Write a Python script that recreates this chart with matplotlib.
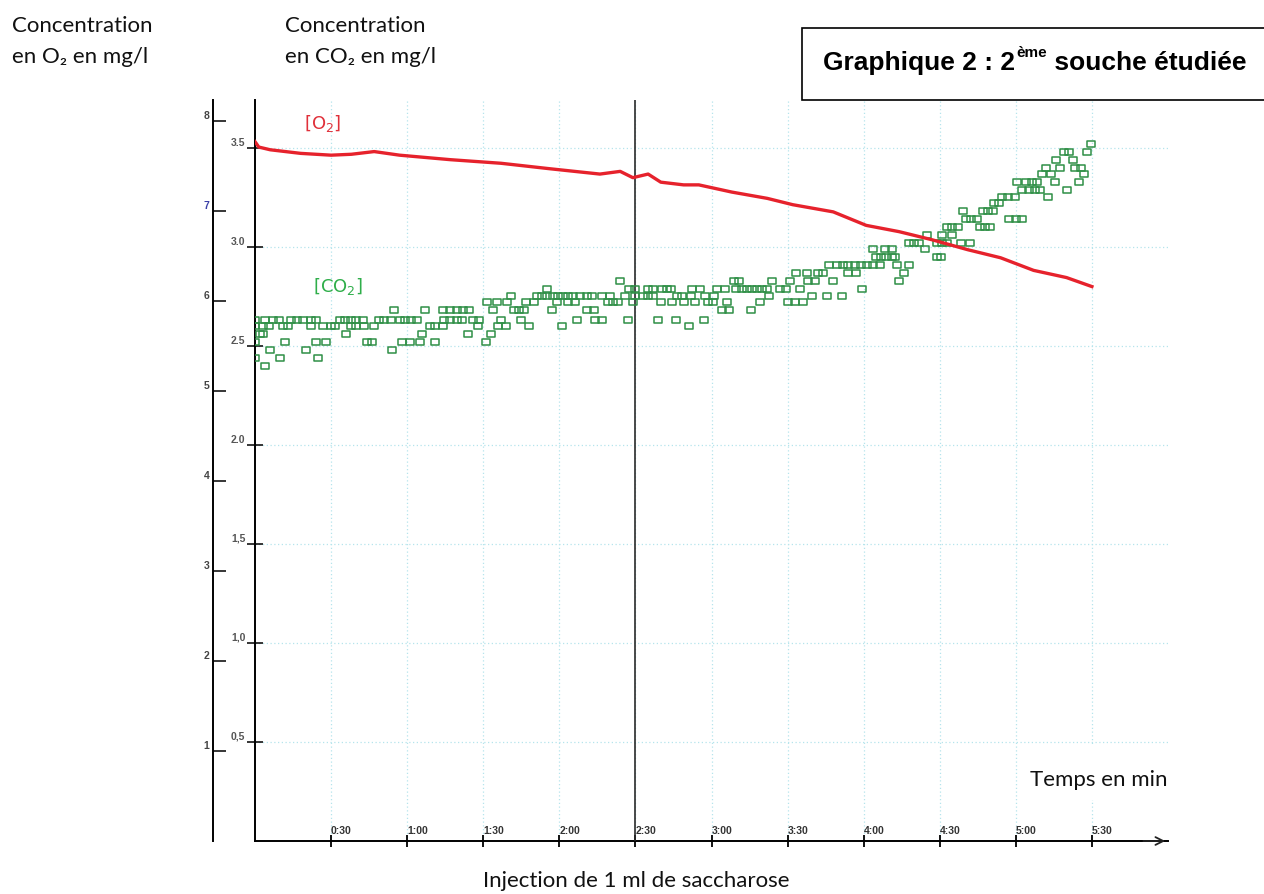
import numpy as np
import matplotlib
matplotlib.use('Agg')
import matplotlib.pyplot as plt
from matplotlib.path import Path
from matplotlib.patches import Rectangle

# O2 trace: time (s) and concentration (mg/l, left outer axis)
o2_t = [0, 1.5, 6, 18, 30, 38, 47, 57, 77, 97, 116, 136, 144, 149, 155, 160, 169, 175,
        188, 202, 212, 228, 241, 254, 267, 281, 294, 307, 320, 330]
o2_val = [7.77, 7.71, 7.68, 7.64, 7.62, 7.63, 7.66, 7.62, 7.57, 7.53, 7.47, 7.41, 7.44, 7.37,
          7.41, 7.32, 7.29, 7.29, 7.21, 7.14, 7.07, 6.99, 6.84, 6.77, 6.68, 6.57, 6.48, 6.34,
          6.26, 6.16]

# CO2 readings (mg/l, inner axis): the sensor steps by levels, times (s) seen at each level
co2_levels = [2.40, 2.44, 2.48, 2.52, 2.56, 2.60, 2.63, 2.68, 2.72, 2.75, 2.79, 2.83, 2.87,
              2.91, 2.95, 2.99, 3.02, 3.06, 3.10, 3.14, 3.18, 3.22, 3.25, 3.29, 3.33, 3.37,
              3.40, 3.44, 3.48, 3.52]
co2_times = [
    [4],
    [0, 10, 25],
    [6, 20, 54],
    [0, 12, 24, 28, 44, 46, 58, 61, 65, 71, 91],
    [2, 3, 36, 66, 84, 93],
    [0, 3, 5.5, 11, 13, 22, 27, 30, 31.5, 38, 40, 43, 47, 69, 71, 74, 88, 96, 99, 108, 121, 171],
    [0, 4, 7, 9.5, 14, 16.5, 19, 22, 24, 33.5, 35.5, 38, 40, 42.5, 49, 51, 53.5, 57, 59, 61.5,
     64, 74.5, 77, 79.5, 81.5, 86, 88.5, 97, 105, 127, 134, 137, 147, 159, 166, 177],
    [55, 67, 74, 77, 79.5, 82, 84.5, 94, 102, 104, 106, 117, 131, 133.5, 184, 187, 195.5],
    [91.5, 95.5, 99.5, 107, 110, 119, 123.5, 126, 139, 141, 143, 149, 160, 164.5, 169, 173.5,
     178.5, 180.5, 186, 199, 210, 213, 216],
    [101, 111, 113, 115, 117.5, 119.5, 121.5, 123.5, 125.5, 128, 131, 133, 137, 140, 146, 150,
     153, 155, 157, 166.5, 168.5, 172, 177.5, 181, 202.5, 219.5, 225.5, 231.5],
    [115, 147.5, 150, 155, 157, 160.5, 162.5, 164, 172.5, 175.5, 182, 185.5, 189.5, 192, 194,
     196, 198, 200, 202, 207, 209.5, 215, 239.5],
    [144, 189, 191, 204, 211, 218, 221, 228, 254],
    [213.5, 217.5, 222, 224, 234, 237, 256],
    [226.5, 229.5, 232, 234, 236.5, 239, 241.5, 243.5, 246.5, 253, 258],
    [245, 247, 249, 251, 252.5, 269, 270.5],
    [243.5, 248.5, 251, 264],
    [258, 260, 262, 269, 271, 273, 278.5, 282],
    [265, 271, 275],
    [273, 275, 277, 286, 288, 290],
    [280.5, 282.5, 284.5, 297.5, 300, 302.5],
    [279, 287, 289, 291],
    [291.5, 293.5],
    [294.5, 297, 299.5, 312.5],
    [302.5, 305, 307.5, 309.5, 320],
    [300.5, 304, 306.5, 308.5, 315.5, 325],
    [310.5, 314, 327],
    [312, 317.5, 323.5, 325.5],
    [316, 322.5],
    [319, 321, 328],
    [329.5],
]

time_ticks = [30, 60, 90, 120, 150, 180, 210, 240, 270, 300, 330]
time_labels = ['0:30', '1:00', '1:30', '2:00', '2:30', '3:00', '3:30', '4:00', '4:30', '5:00', '5:30']
co2_ticks = [0.5, 1.0, 1.5, 2.0, 2.5, 3.0, 3.5]
co2_labels = ['0,5', '1,0', '1,5', '2.0', '2.5', '3.0', '3.5']
o2_ticks = [1, 2, 3, 4, 5, 6, 7, 8]
injection_t = 150

co2_t = np.concatenate([np.array(ts, float) for ts in co2_times])
co2_val = np.concatenate([np.full(len(ts), lv) for lv, ts in zip(co2_levels, co2_times)])

W, H = 1264, 894
fig = plt.figure(figsize=(W / 100, H / 100), dpi=100)
ax = fig.add_axes([255 / W, 53 / H, 913 / W, 741 / H])
ax.set_xlim(0, 360)
ax.set_ylim(0, 3.742)

for s in ['top', 'right']:
    ax.spines[s].set_visible(False)
ax.spines['left'].set_linewidth(1.4)
ax.spines['bottom'].set_linewidth(1.4)

tickfont = dict(family='Liberation Sans', weight='bold', size=7.5)
ax.set_xticks(time_ticks)
ax.set_xticklabels(time_labels, ha='left', color='#333333', **tickfont)
ax.tick_params(axis='x', direction='inout', length=9, width=1.3, pad=-15)
ax.set_yticks(co2_ticks)
ax.set_yticklabels(co2_labels, va='bottom', color='#555555', **tickfont)
ax.tick_params(axis='y', direction='inout', length=12, width=1.1, pad=1)

ax.grid(True, color='#b5e4ec', linestyle=(0, (1, 2)), linewidth=0.9)
ax.axvline(injection_t, color='#2a2a2a', lw=1.2, zorder=3)
ax.annotate('', xy=(1.0, 0), xytext=(0.97, 0), xycoords='axes fraction',
            arrowprops=dict(arrowstyle='->', lw=1.3, color='#222222', mutation_scale=14))

# rectangular sensor markers
rect = Path([(-1, -0.6), (1, -0.6), (1, 0.6), (-1, 0.6), (-1, -0.6)],
            [Path.MOVETO, Path.LINETO, Path.LINETO, Path.LINETO, Path.CLOSEPOLY])
ax.plot(co2_t, co2_val, ls='none', marker=rect, ms=6.4, mfc='none', mec='#2f8f46', mew=1.1,
        zorder=4)
ax.text(23, 2.80, '[CO$_2$]', color='#2fae4a', fontsize=13, va='center', zorder=5)

# outer O2 axis
ax2 = ax.twinx()
ax2.set_ylim(0, 8.233)
for s in ['top', 'right', 'bottom']:
    ax2.spines[s].set_visible(False)
ax2.spines['left'].set_visible(True)
ax2.spines['left'].set_position(('outward', 30))
ax2.spines['left'].set_linewidth(1.4)
ax2.yaxis.set_ticks_position('left')
ax2.set_yticks(o2_ticks)
ax2.set_yticklabels([str(v) for v in o2_ticks], va='bottom', color='#444444', **tickfont)
ax2.get_yticklabels()[6].set_color('#3b40a8')
ax2.tick_params(axis='y', direction='in', length=9, width=1.1, pad=3)
ax2.plot(o2_t, o2_val, color='#e6222c', lw=2.4, zorder=5)
ax2.text(19.5, 7.97, '[O$_2$]', color='#e0303a', fontsize=13, va='center')

# cover patch behind the time label
fig.patches.append(Rectangle((1018 / W, 1 - 800 / H), 180 / W, 56 / H, transform=fig.transFigure,
                             facecolor='white', edgecolor='none', zorder=1))

lab = dict(family=['Lato', 'DejaVu Sans'], fontsize=16, color='#111111')
fig.text(12 / W, 1 - 32 / H, 'Concentration', va='baseline', **lab)
fig.text(12 / W, 1 - 63 / H, 'en O₂ en mg/l', va='baseline', **lab)
fig.text(285 / W, 1 - 32 / H, 'Concentration', va='baseline', **lab)
fig.text(285 / W, 1 - 63 / H, 'en CO₂ en mg/l', va='baseline', **lab)
fig.text(1030 / W, 1 - 786 / H, 'Temps en min', va='baseline', zorder=2, **lab)
fig.text(636 / W, 1 - 887 / H, 'Injection de 1 ml de saccharose', ha='center', va='baseline', **lab)

# title box
fig.patches.append(Rectangle((802 / W, 1 - 100 / H), 500 / W, 72 / H, transform=fig.transFigure,
                             facecolor='white', edgecolor='black', lw=1.2, zorder=1))
tfont = dict(family='Liberation Sans', weight='bold', color='black', zorder=2)
r = fig.canvas.get_renderer()
inv = fig.transFigure.inverted()
t1 = fig.text(823 / W, 1 - 70 / H, 'Graphique 2 : 2', fontsize=19, va='baseline', **tfont)
x1 = inv.transform((t1.get_window_extent(r).x1, 0))[0]
t2 = fig.text(x1 + 1 / W, 1 - 57 / H, 'ème', fontsize=11, va='baseline', **tfont)
x2 = inv.transform((t2.get_window_extent(r).x1, 0))[0]
fig.text(x2, 1 - 70 / H, ' souche étudiée', fontsize=19, va='baseline', **tfont)

fig.savefig('out.png', dpi=100)
